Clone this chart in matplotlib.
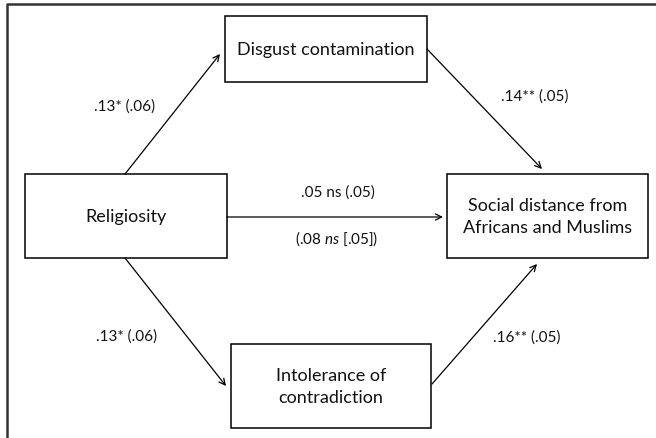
import matplotlib
matplotlib.use("Agg")
import matplotlib.pyplot as plt
from matplotlib.patches import Rectangle

plt.rcParams['font.family'] = ['Lato', 'DejaVu Sans']
plt.rcParams['mathtext.fontset'] = 'custom'
plt.rcParams['mathtext.rm'] = 'Lato'
plt.rcParams['mathtext.it'] = 'Lato:italic'

# path diagram content
box_names = ["Religiosity", "Disgust contamination", "Intolerance of\ncontradiction",
             "Social distance from\nAfricans and Muslims"]
path_labels = [".13* (.06)", ".14** (.05)", ".13* (.06)", ".16** (.05)",
               ".05 ns (.05)", "(.08 $\\mathit{ns}$ [.05])"]

fig = plt.figure(figsize=(6.56, 4.39), dpi=100)
ax = fig.add_axes([0, 0, 1, 1])
ax.set_xlim(0, 656)
ax.set_ylim(439, 0)
ax.axis('off')

# outer frame (only top and left visible)
ax.plot([7, 7, 660], [445, 5, 5], color='#333333', lw=1.8)

# boxes: x0, y0, x1, y1 in pixel space
boxes = [(25, 175, 227, 259), (225, 17, 427, 83), (231, 345, 431, 429), (447, 175, 648, 259)]
for (x0, y0, x1, y1), name in zip(boxes, box_names):
    ax.add_patch(Rectangle((x0, y0), x1 - x0, y1 - y0, fill=False, ec='black', lw=1.1))
    ax.text((x0 + x1) / 2, (y0 + y1) / 2, name, ha='center', va='center',
            fontsize=13, linespacing=1.4, color='#111111')

arrows = [((125, 175), (220, 55)), ((427, 50), (542, 170)),
          ((125, 259), (226, 387)), ((432, 385), (537, 265)),
          ((227, 218), (443, 218))]
for start, end in arrows:
    ax.annotate('', xy=end, xytext=start,
                arrowprops=dict(arrowstyle='->', lw=0.9, color='black',
                                shrinkA=0, shrinkB=0, mutation_scale=11))

label_pos = [(125, 107), (535, 97), (127, 337), (527, 338), (338, 193), (337, 239)]
for (x, y), lab in zip(label_pos, path_labels):
    ax.text(x, y, lab, ha='center', va='center', fontsize=11, color='#111111')

fig.savefig("out.png", dpi=100)
